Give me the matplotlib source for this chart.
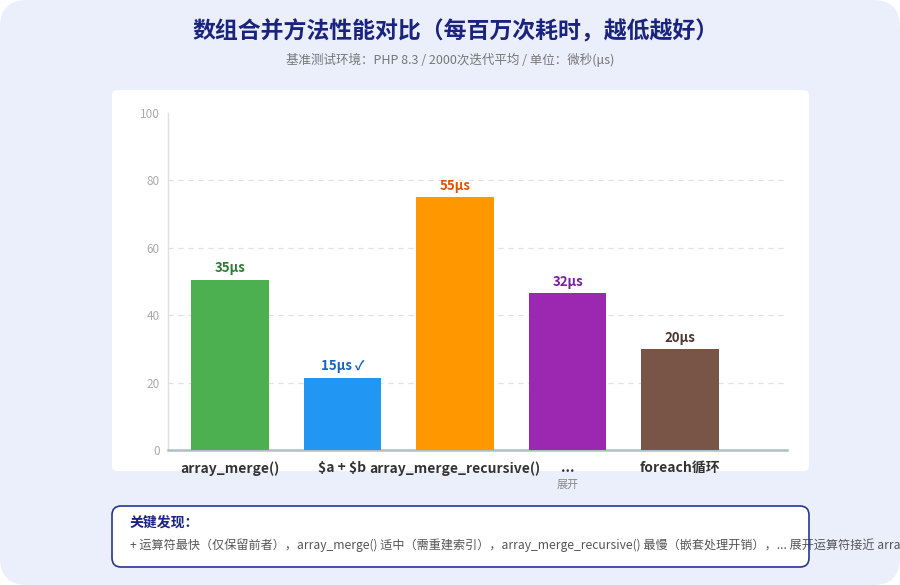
"""
数组合并方法性能对比 - bar chart
"""

import matplotlib
matplotlib.use("Agg")
import matplotlib.pyplot as plt
from matplotlib.patches import FancyBboxPatch

plt.rcParams["font.family"] = ["Noto Sans CJK SC", "DejaVu Sans"]

# -------------------------------------------------------------------
# Data
# -------------------------------------------------------------------
methods = ["array_merge()", r"\$a + \$b", "array_merge_recursive()", "...", "foreach循环"]
bar_values = [50.5, 21.5, 75, 46.5, 30]
value_labels = ["35μs", "15μs ✓", "55μs", "32μs", "20μs"]
bar_colors = ["#4caf50", "#2196f3", "#ff9800", "#9c27b0", "#795548"]
label_colors = ["#2e7d32", "#1565c0", "#e65100", "#7b1fa2", "#4e342e"]
y_ticks = [0, 20, 40, 60, 80, 100]

TITLE = "数组合并方法性能对比（每百万次耗时，越低越好）"
SUBTITLE = "基准测试环境：PHP 8.3 / 2000次迭代平均 / 单位：微秒(μs)"
NOTE_HEAD = "关键发现："
NOTE_TEXT = ("+ 运算符最快（仅保留前者），array_merge() 适中（需重建索引），"
             "array_merge_recursive() 最慢（嵌套处理开销），... 展开运算符接近 array_merge()")

W, H = 900, 585

fig = plt.figure(figsize=(W / 100, H / 100), dpi=100)
fig.patch.set_facecolor("white")


def fx(px):
    return px / W


def fy(py):
    return 1 - py / H


def card(x0, y0, x1, y1, r, **kw):
    p = FancyBboxPatch((fx(x0), fy(y1)), fx(x1) - fx(x0), fy(y0) - fy(y1),
                       boxstyle=f"round,pad=0,rounding_size={r}",
                       transform=fig.transFigure, mutation_aspect=W / H, **kw)
    fig.patches.append(p)
    return p


# background card with rounded corners
card(0, 0, 900, 585, 0.03, facecolor="#ebeffc", edgecolor="none", zorder=0)
# white chart panel
card(112, 90, 809, 471, 0.006, facecolor="white", edgecolor="none", zorder=0.2)
# note box: fill below text, border above it
card(112, 506, 809, 567, 0.01, facecolor="white", edgecolor="none", zorder=0.2)
card(112, 506, 809, 567, 0.01, facecolor="none", edgecolor="#283593",
     linewidth=1.2, zorder=5)

# titles
fig.text(0.5 + 6 / W, fy(32), TITLE, ha="center", va="center", fontsize=16.5,
         fontweight="bold", color="#1a237e")
fig.text(0.5, fy(60), SUBTITLE, ha="center", va="center", fontsize=9,
         color="#777777")

# -------------------------------------------------------------------
# Chart
# -------------------------------------------------------------------
ax = fig.add_axes([fx(168), fy(450), fx(787) - fx(168), fy(113) - fy(450)])
ax.set_zorder(1)
ax.set_facecolor("none")
x = list(range(len(methods)))
ax.bar(x, bar_values, width=0.69, color=bar_colors, zorder=3)

for xi, v, lab, c in zip(x, bar_values, value_labels, label_colors):
    ax.text(xi, v + 1.3, lab, ha="center", va="bottom", fontsize=9.5,
            fontweight="bold", color=c, zorder=4)

ax.set_xlim(-0.55, 4.95)
ax.set_ylim(0, 100)
ax.set_yticks(y_ticks)
ax.set_yticklabels([str(t) for t in y_ticks], fontsize=8.5, color="#aaaaaa")
ax.set_xticks(x)
ax.set_xticklabels(methods, fontsize=10, fontweight="bold", color="#333333")
ax.tick_params(axis="both", length=0)
ax.tick_params(axis="x", pad=8)
ax.tick_params(axis="y", pad=6)

for t in y_ticks[1:-1]:
    ax.axhline(t, color="#e0e0e0", linestyle=(0, (4, 4)), linewidth=0.9, zorder=1)

for s in ["top", "right"]:
    ax.spines[s].set_visible(False)
ax.spines["left"].set_color("#e0e0e0")
ax.spines["left"].set_linewidth(1.0)
ax.spines["bottom"].set_color("#b0bec5")
ax.spines["bottom"].set_linewidth(1.8)

# second line under "..."
ax.text(3, -10.4, "展开", ha="center", va="center", fontsize=8,
        color="#888888", transform=ax.transData)

# -------------------------------------------------------------------
# Note
# -------------------------------------------------------------------
fig.text(fx(130), fy(523), NOTE_HEAD, ha="left", va="center", fontsize=10,
         fontweight="bold", color="#1a237e", zorder=3)
fig.text(fx(130), fy(545), NOTE_TEXT, ha="left", va="center", fontsize=8.7,
         color="#555555", zorder=3)

fig.savefig("out.png", dpi=100)
